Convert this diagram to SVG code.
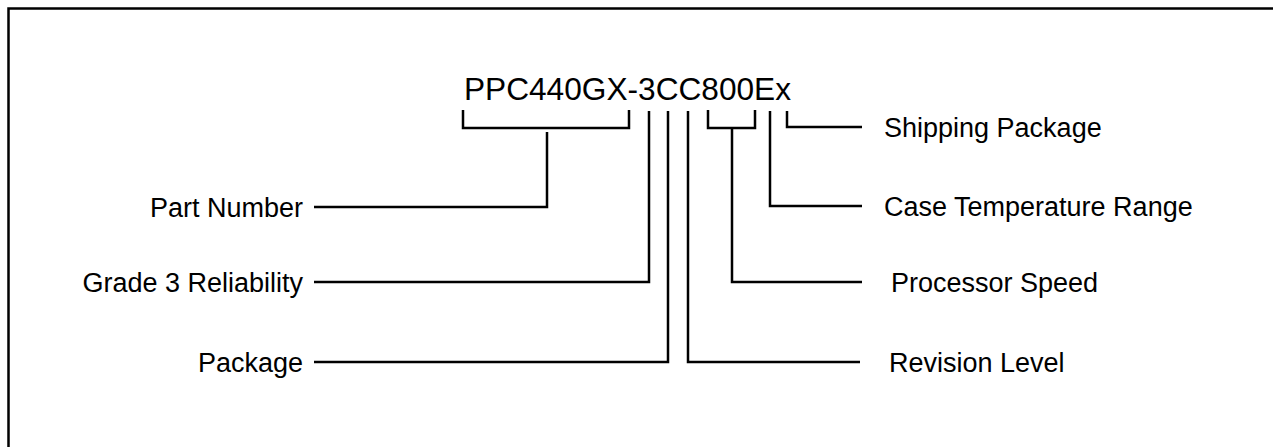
<svg xmlns="http://www.w3.org/2000/svg" width="1273" height="447" viewBox="0 0 1273 447">
<style>
.t{font-family:"Liberation Sans",Arial,sans-serif;font-size:27px;fill:#000}
.l{fill:none;stroke:#000;stroke-width:2.5}
.r{text-anchor:end}
</style>
<rect width="1273" height="447" fill="#fff"/>
<path class="l" d="M8.5,447 V8.5 H1273" stroke-width="3"/>
<g id="title"><text class="t" x="464" y="100" style="font-size:31px" textLength="327" lengthAdjust="spacingAndGlyphs">PPC440GX-3CC800Ex</text></g>
<g id="part-number"><text class="t r" x="303" y="216.5">Part Number</text></g>
<g id="grade"><text class="t r" x="303" y="291.5">Grade 3 Reliability</text></g>
<g id="package"><text class="t r" x="303" y="371.5">Package</text></g>
<g id="shipping"><text class="t" x="884" y="136.5">Shipping Package</text></g>
<g id="case-temp"><text class="t" x="884" y="215.5">Case Temperature Range</text></g>
<g id="speed"><text class="t" x="891" y="291.5">Processor Speed</text></g>
<g id="revision"><text class="t" x="889" y="371.5">Revision Level</text></g>
<g id="connectors">
<path class="l" d="M463,110 V128 H629 V110"/>
<path class="l" d="M547,132 V207 H314"/>
<path class="l" d="M649,111 V282 H314"/>
<path class="l" d="M668,111 V362 H314"/>
<path class="l" d="M688,111 V362 H860"/>
<path class="l" d="M708,110 V128 H755 V110"/>
<path class="l" d="M732,128 V282 H862"/>
<path class="l" d="M770,111 V206 H862"/>
<path class="l" d="M787,111 V127 H862"/>
</g>
</svg>
